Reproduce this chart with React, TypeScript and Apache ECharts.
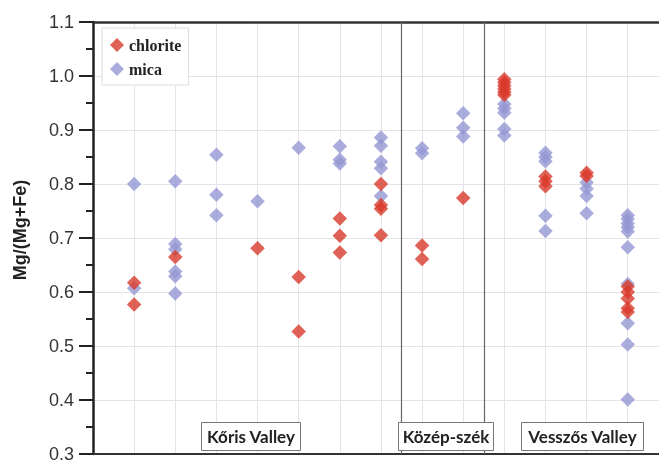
import React, { useEffect, useRef } from "react";
import * as echarts from "echarts";

// Sample column (1..13) and Mg/(Mg+Fe) value for each analysed point
const chloriteColumn = [1, 1, 2, 4, 5, 5, 6, 6, 6, 7, 7, 7, 7, 8, 8, 9, 10, 10, 10, 10, 10, 10, 11, 11, 11, 12, 12, 13, 13, 13, 13, 13];
const chloriteValue = [0.617, 0.577, 0.665, 0.681, 0.628, 0.527, 0.736, 0.704, 0.673, 0.8, 0.761, 0.754, 0.705, 0.686, 0.661, 0.774, 0.994, 0.988, 0.982, 0.976, 0.97, 0.965, 0.814, 0.805, 0.796, 0.821, 0.815, 0.61, 0.6, 0.588, 0.57, 0.563];

const micaColumn = [1, 1, 2, 2, 2, 2, 2, 2, 3, 3, 3, 4, 5, 6, 6, 6, 7, 7, 7, 7, 7, 8, 8, 9, 9, 9, 10, 10, 10, 10, 10, 11, 11, 11, 11, 11, 12, 12, 12, 12, 13, 13, 13, 13, 13, 13, 13, 13, 13, 13];
const micaValue = [0.8, 0.607, 0.805, 0.689, 0.679, 0.638, 0.629, 0.597, 0.854, 0.78, 0.742, 0.768, 0.867, 0.87, 0.845, 0.838, 0.886, 0.871, 0.841, 0.829, 0.778, 0.866, 0.857, 0.931, 0.904, 0.888, 0.948, 0.94, 0.932, 0.902, 0.89, 0.858, 0.85, 0.842, 0.741, 0.713, 0.803, 0.791, 0.778, 0.746, 0.742, 0.735, 0.727, 0.72, 0.712, 0.683, 0.615, 0.542, 0.503, 0.401];

const groupBoundaries = [7.5, 9.5];
const regionLabels = ["Kőris Valley", "Közép-szék", "Vesszős Valley"];
const yTicks = [0.3, 1.1, 0.1];
const xRange = [0, 13.76];

export default function App() {
  const ref = useRef<HTMLDivElement>(null);
  useEffect(() => {
    if (!ref.current) return;
    const chart = echarts.init(ref.current, null, { renderer: "svg" });
    const chlorite = chloriteColumn.map((c, i) => [c, chloriteValue[i]]);
    const mica = micaColumn.map((c, i) => [c, micaValue[i]]);
    const boxText = (text: string, x: number, w: number) => ({
      type: "group",
      left: x,
      top: 422,
      z: 100,
      children: [
        { type: "rect", z: 100, z2: 100, shape: { x: 0, y: 0, width: w, height: 28 }, style: { fill: "#fff", stroke: "#777", lineWidth: 1 } },
        {
          type: "text",
          z: 100,
          z2: 101,
          style: { x: w / 2, y: 14, text, align: "center", verticalAlign: "middle", fill: "#222", font: "bold 17px Lato, 'Open Sans', sans-serif" },
        },
      ],
    });
    const hiddenAxisParts = {
      axisTick: { show: false },
      axisLabel: { show: false },
    };
    chart.setOption({
      animation: false,
      grid: { left: 93, top: 22, right: 0, height: 433 },
      legend: {
        data: ["chlorite", "mica"],
        orient: "vertical",
        left: 102,
        top: 28,
        padding: [9, 7, 8, 8],
        itemGap: 8,
        itemWidth: 14,
        itemHeight: 14,
        borderColor: "#ddd",
        borderWidth: 1,
        backgroundColor: "#fff",
        textStyle: { fontFamily: "'Liberation Serif', 'DejaVu Serif', serif", fontWeight: "bold", fontSize: 16, color: "#222" },
      },
      xAxis: [
        {
          type: "value",
          min: xRange[0],
          max: xRange[1],
          interval: 1,
          axisLine: { show: true, onZero: false, lineStyle: { color: "#333", width: 2 } },
          ...hiddenAxisParts,
          splitLine: { show: true, lineStyle: { color: "#e4e4e8", width: 1 } },
        },
        {
          type: "value",
          position: "top",
          min: xRange[0],
          max: xRange[1],
          interval: 1,
          axisLine: { show: true, onZero: false, lineStyle: { color: "#333", width: 2.5 } },
          ...hiddenAxisParts,
          splitLine: { show: false },
        },
      ],
      yAxis: {
        type: "value",
        min: yTicks[0],
        max: yTicks[1],
        interval: yTicks[2],
        axisLine: { show: true, lineStyle: { color: "#222", width: 2.5 } },
        axisTick: { show: true, length: 14, lineStyle: { color: "#222", width: 2 } },
        minorTick: { show: true, splitNumber: 2, length: 7, lineStyle: { color: "#222", width: 2 } },
        axisLabel: { margin: 19, fontSize: 18, color: "#333", fontFamily: "'Liberation Sans', Arial, sans-serif", formatter: (v: number) => v.toFixed(1) },
        splitLine: { show: true, lineStyle: { color: "#e4e4e8", width: 1 } },
      },
      graphic: {
        z: 100,
        elements: [
          {
            type: "text",
            x: 20,
            y: 230,
            rotation: Math.PI / 2,
            style: { text: "Mg/(Mg+Fe)", align: "center", verticalAlign: "middle", fill: "#222", font: "bold 18px 'Liberation Sans', Arial, sans-serif" },
          },
          boxText(regionLabels[0], 201, 99),
          boxText(regionLabels[1], 398, 95),
          boxText(regionLabels[2], 521, 122),
        ],
      },
      series: [
        {
          name: "boundaries",
          type: "scatter",
          z: 1,
          data: [],
          markLine: {
            silent: true,
            z: 1,
            symbol: "none",
            label: { show: false },
            lineStyle: { color: "#666", width: 1.2, type: "solid" },
            data: groupBoundaries.map((x) => ({ xAxis: x })),
          },
        },
        {
          name: "mica",
          type: "scatter",
          symbol: "diamond",
          symbolSize: 14.5,
          itemStyle: { color: "#9597d3" },
          data: mica,
        },
        {
          name: "chlorite",
          type: "scatter",
          symbol: "diamond",
          symbolSize: 14.5,
          itemStyle: { color: "#d8392b" },
          data: chlorite,
        },
      ],
    });
    return () => chart.dispose();
  }, []);
  return <div ref={ref} style={{ position: "fixed", left: 0, top: 0, width: 659, height: 463 }} />;
}
